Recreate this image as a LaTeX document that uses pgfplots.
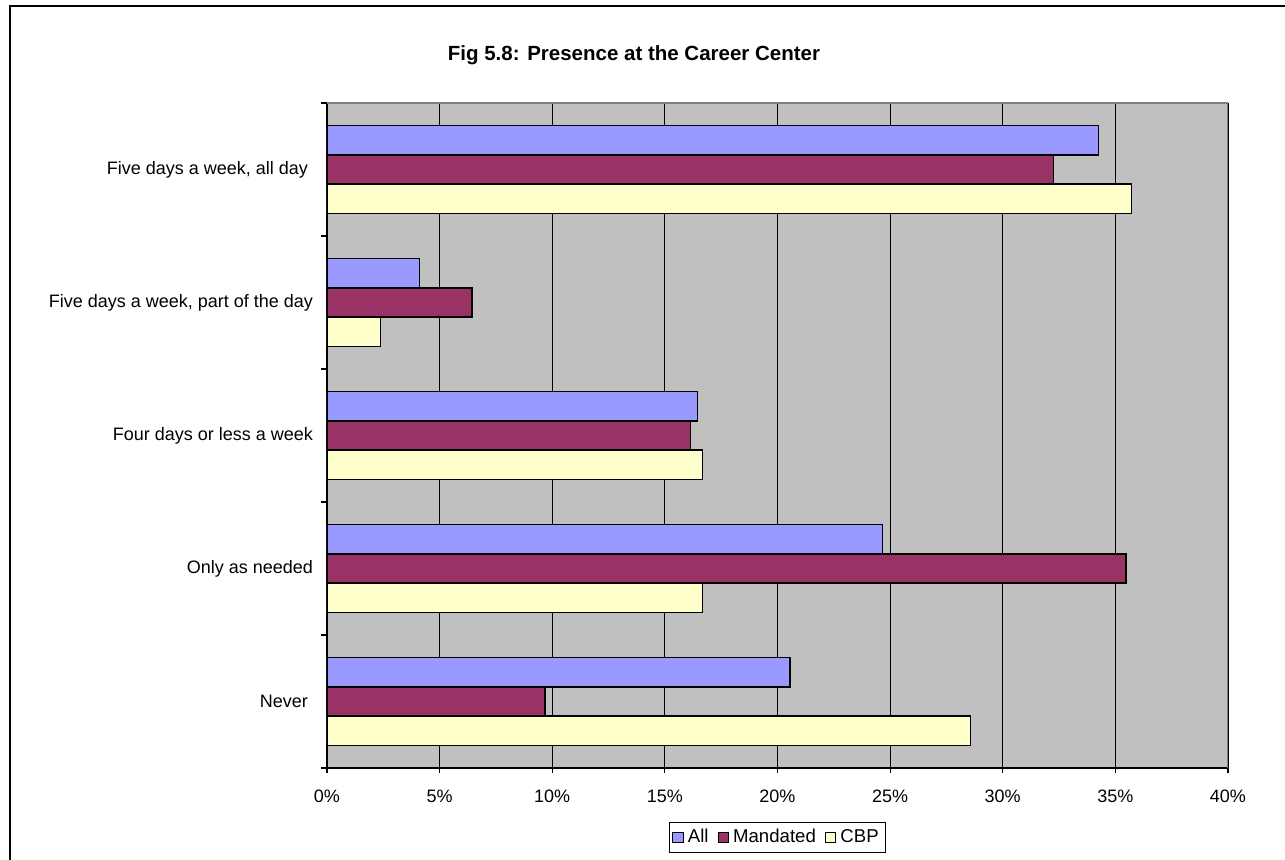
\documentclass[border=0pt]{standalone}
\usepackage{fontspec}
\setmainfont{Liberation Sans}
\usepackage{pgfplots}
\pgfplotsset{compat=1.18}
\definecolor{cAll}{RGB}{153,153,255}
\definecolor{cMan}{RGB}{153,51,102}
\definecolor{cCBP}{RGB}{255,255,204}
\definecolor{plotbg}{RGB}{192,192,192}
\definecolor{frameg}{RGB}{128,128,128}

\begin{document}
\begin{tikzpicture}
% whole picture, 1px = 0.5pt, origin at the lower left corner of the plot area
\path[use as bounding box] (-163.5pt,-46pt) rectangle (479pt,384pt);
\draw[line width=1pt] (-158.5pt,-46pt) -- (-158.5pt,381pt) -- (479pt,381pt);
\node[font=\fontsize{10.25}{12}\selectfont\bfseries] at (153.5pt,356.5pt) {Fig 5.8: Presence at the Career Center};

\begin{axis}[
    at={(0,0)}, anchor=south west,
    width=450.5pt, height=332.5pt, scale only axis,
    xbar, bar width=0.22,
    xmin=0, xmax=40, ymin=-0.5, ymax=4.5,
    axis x line*=bottom, axis y line*=left,
    axis line style={black, line width=0.6pt},
    axis background/.style={fill=plotbg},
    xtick={0,5,...,40},
    xticklabel={\pgfmathprintnumber{\tick}\%},
    /pgf/number format/assume math mode=true,
    ytick={0,1,2,3,4},
    yticklabels={Never\hspace*{2.5pt},Only as needed,Four days or less a week,{Five days a week, part of the day},{Five days a week, all day\hspace*{2.5pt}}},
    minor ytick={-0.5,0.5,...,4.5},
    tick align=outside,
    major tick length=2.5pt, minor tick length=3pt,
    major y tick style={draw=none},
    minor y tick style={black, line width=0.6pt},
    major x tick style={black, line width=0.6pt},
    xmajorgrids=true,
    major x grid style={black, line width=0.6pt},
    every tick label/.append style={font=\fontsize{9}{11}\selectfont},
    xticklabel style={yshift=-5pt},
    yticklabel style={xshift=-1pt},
    legend style={at={(0.5,-0.1045)}, anchor=center, legend columns=-1,
        draw=black, line width=0.5pt, font=\fontsize{9.3}{11}\selectfont,
        inner sep=1.5pt,
        /tikz/every even column/.append style={column sep=2.5pt}},
    legend image code/.code={\draw[#1, draw=black, line width=0.6pt] (0pt,-2.6pt) rectangle (5.2pt,2.6pt);},
    every axis plot/.append style={draw=black, line width=0.8pt},
]
\addplot[fill=cAll, bar shift=0.22] coordinates {(34.25,4) (4.11,3) (16.44,2) (24.66,1) (20.55,0)};
\addplot[fill=cMan, bar shift=0] coordinates {(32.26,4) (6.45,3) (16.13,2) (35.48,1) (9.68,0)};
\addplot[fill=cCBP, bar shift=-0.22] coordinates {(35.71,4) (2.38,3) (16.67,2) (16.67,1) (28.57,0)};
\legend{All,Mandated,CBP}
\draw[frameg, line width=0.8pt] (rel axis cs:0,1) -- (rel axis cs:1,1) -- (rel axis cs:1,0);
\end{axis}
\end{tikzpicture}
\end{document}
